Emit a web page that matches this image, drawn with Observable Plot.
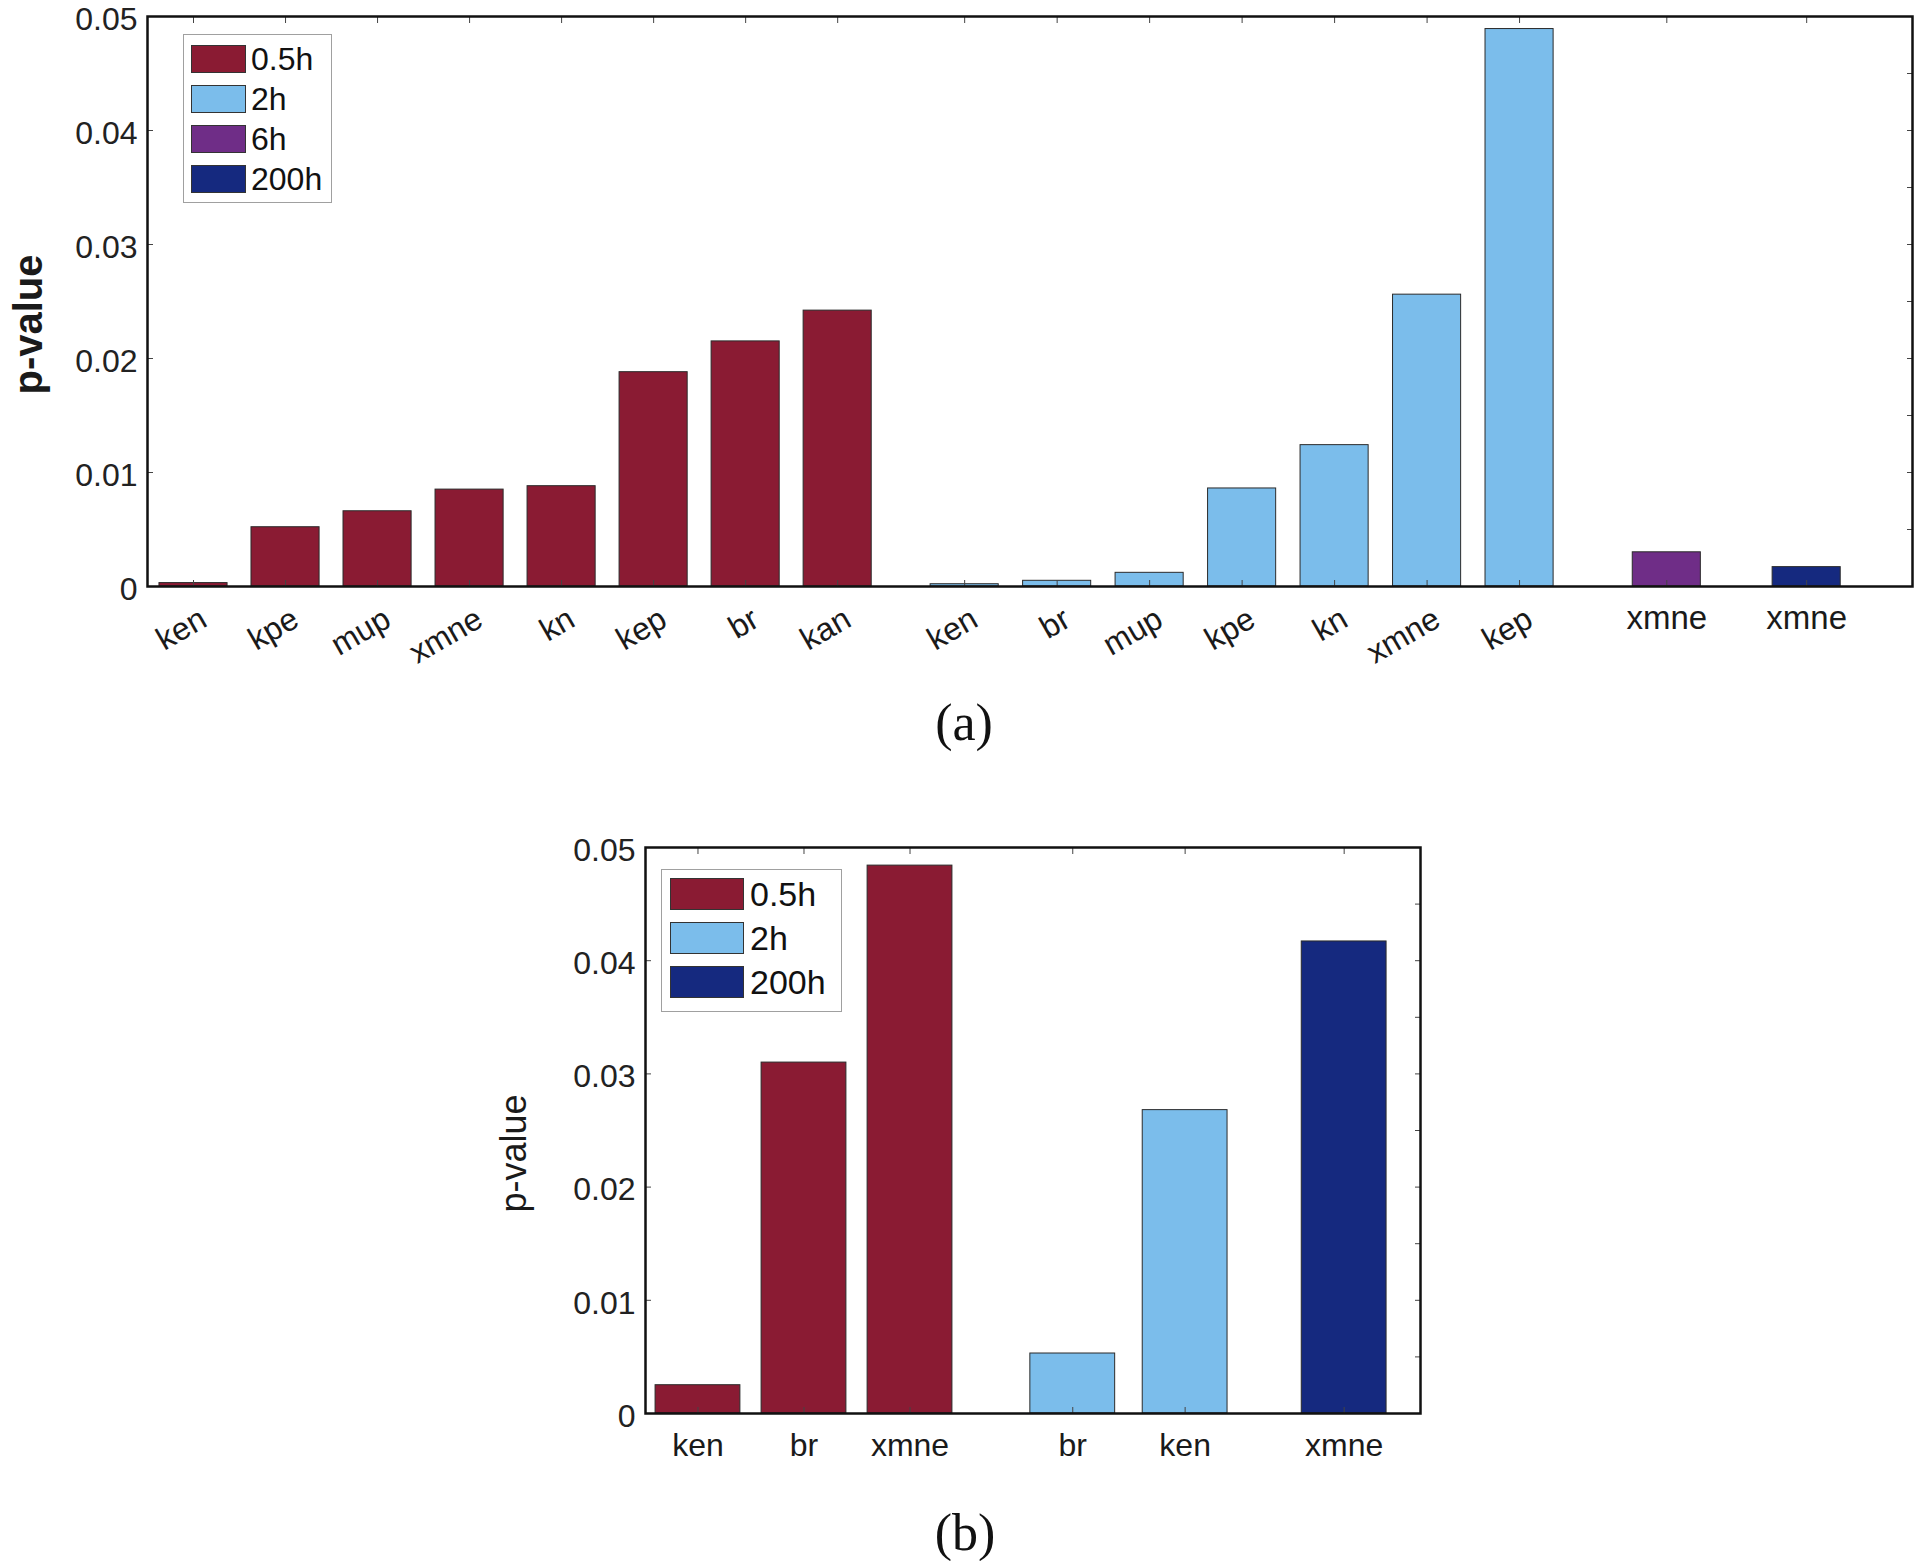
<!DOCTYPE html>
<html>
<head>
<meta charset="utf-8">
<script src="https://cdn.jsdelivr.net/npm/d3@7"></script>
<script src="https://cdn.jsdelivr.net/npm/@observablehq/plot@0.6"></script>
<style>
  html, body { margin: 0; padding: 0; background: #fff; }
  #root { position: relative; width: 1920px; height: 1561px; background: #fff; overflow: hidden;
          font-family: "Liberation Sans", Arial, Helvetica, sans-serif; color: #222; }
  .panel { position: absolute; left: 0; }
  .panel svg { overflow: visible; }
  .legend { position: absolute; box-sizing: border-box; border: 1.5px solid #a0a0a0; background: #fff; }
  .legend .sw { position: absolute; box-sizing: border-box; border: 1.2px solid #333; }
  .legend .lb { position: absolute; line-height: 1; white-space: nowrap; color: #111; }
  .cap { position: absolute; font-family: "Liberation Serif", "Times New Roman", serif; font-size: 52px;
         transform: translate(-50%, -50%); color: #111; line-height: 1; }
</style>
</head>
<body>
<div id="root"></div>
<script>
// ---------------- data ----------------
const groups = ["0.5h", "2h", "6h", "200h"];
const groupColors = ["#8a1b33", "#7bbdeb", "#6f2d87", "#15297f"];

// panel (a)
const aLabels05 = ["ken", "kpe", "mup", "xmne", "kn", "kep", "br", "kan"];
const aValues05 = [0.0003, 0.0052, 0.0066, 0.0085, 0.0088, 0.0188, 0.0215, 0.0242];
const aLabels2 = ["ken", "br", "mup", "kpe", "kn", "xmne", "kep"];
const aValues2 = [0.0002, 0.0005, 0.0012, 0.0086, 0.0124, 0.0256, 0.0489];
const aLabels6 = ["xmne"];
const aValues6 = [0.0030];
const aLabels200 = ["xmne"];
const aValues200 = [0.0017];

// panel (b)
const bLabels05 = ["ken", "br", "xmne"];
const bValues05 = [0.0025, 0.0310, 0.0484];
const bLabels2 = ["br", "ken"];
const bValues2 = [0.0053, 0.0268];
const bLabels200 = ["xmne"];
const bValues200 = [0.0417];

const yTicks = [0, 0.01, 0.02, 0.03, 0.04, 0.05];
const yMinorTicks = [0, 0.005, 0.01, 0.015, 0.02, 0.025, 0.03, 0.035, 0.04, 0.045, 0.05];

// ---------------- layout (slot units) ----------------
const layoutA = {
  domain: [0, 19.18], barWidth: 0.74,
  groups: [
    {group: "0.5h", labels: aLabels05, values: aValues05, start: 0.5, step: 1.0, rotate: true},
    {group: "2h", labels: aLabels2, values: aValues2, start: 8.88, step: 1.005, rotate: true},
    {group: "6h", labels: aLabels6, values: aValues6, start: 16.51, step: 1, rotate: false},
    {group: "200h", labels: aLabels200, values: aValues200, start: 18.03, step: 1, rotate: false}
  ]
};
const layoutB = {
  domain: [0, 7.31], barWidth: 0.80,
  groups: [
    {group: "0.5h", labels: bLabels05, values: bValues05, start: 0.495, step: 1.0, rotate: false},
    {group: "2h", labels: bLabels2, values: bValues2, start: 4.03, step: 1.06, rotate: false},
    {group: "200h", labels: bLabels200, values: bValues200, start: 6.59, step: 1, rotate: false}
  ]
};

function buildRows(layout) {
  const rows = [];
  for (const g of layout.groups) {
    g.labels.forEach((lab, i) => {
      rows.push({group: g.group, label: lab, value: g.values[i], pos: g.start + i * g.step, rotate: g.rotate});
    });
  }
  return rows;
}

const FONT = "Liberation Sans, Arial, Helvetica, sans-serif";

function panel(layout, opts) {
  const rows = buildRows(layout);
  const w = layout.barWidth;
  const positions = rows.map(d => d.pos);
  const rotRows = rows.filter(d => d.rotate);
  const flatRows = rows.filter(d => !d.rotate);
  return Plot.plot({
    width: 1920,
    height: opts.height,
    marginLeft: opts.marginLeft,
    marginRight: opts.marginRight,
    marginTop: opts.marginTop,
    marginBottom: opts.marginBottom,
    x: {type: "linear", domain: layout.domain, axis: null, label: null},
    y: {domain: [0, 0.05], axis: null, label: null},
    color: {domain: groups, range: groupColors},
    style: {fontFamily: FONT, color: "#222", background: "transparent", overflow: "visible"},
    marks: [
      Plot.rectY(rows, {
        x1: d => d.pos - w / 2, x2: d => d.pos + w / 2, y1: 0, y2: "value",
        fill: "group", stroke: "#2b2b2b", strokeWidth: 1
      }),
      // inward tick marks (MATLAB box style)
      Plot.axisY({anchor: "left", ticks: yTicks, tickSize: -6, tickFormat: () => "", label: null, stroke: "#444"}),
      Plot.axisY({anchor: "right", ticks: yMinorTicks, tickSize: -6, tickFormat: () => "", label: null, stroke: "#444"}),
      Plot.axisX({anchor: "bottom", ticks: positions, tickSize: -6, tickFormat: () => "", label: null, stroke: "#444"}),
      Plot.axisX({anchor: "top", ticks: positions, tickSize: -6, tickFormat: () => "", label: null, stroke: "#444"}),
      // y tick labels
      Plot.axisY({anchor: "left", ticks: yTicks, tickSize: 0, tickPadding: 10, tickFormat: d => String(d),
                  label: null, fontSize: 32, fill: "#222", dy: 3}),
      Plot.frame({stroke: "#111", strokeWidth: 2.5}),
      // category labels
      Plot.text(rotRows, {x: "pos", y: () => 0, text: "label", rotate: -30, textAnchor: "end", lineAnchor: "top",
                          dx: 4, dy: 19, fontSize: 32, fill: "#1a1a1a"}),
      Plot.text(flatRows, {x: "pos", y: () => 0, text: "label", lineAnchor: "top",
                           dy: opts.flatDy, fontSize: opts.flatFont, fill: "#1a1a1a"}),
      // y-axis title
      Plot.text(["p-value"], {text: d => d, frameAnchor: "left", rotate: -90, dx: opts.ylabDx, dy: 23,
                              fontSize: opts.ylabFont, fontWeight: opts.ylabWeight, fill: "#1a1a1a",
                              textAnchor: "middle", lineAnchor: "middle"})
    ]
  });
}

const root = document.getElementById("root");

function addPanel(svg, top) {
  const div = document.createElement("div");
  div.className = "panel";
  div.style.top = top + "px";
  div.appendChild(svg);
  root.appendChild(div);
}

function addLegend(box, items) {
  const lg = document.createElement("div");
  lg.className = "legend";
  Object.assign(lg.style, {left: box.left + "px", top: box.top + "px", width: box.width + "px", height: box.height + "px"});
  items.forEach((g, i) => {
    const sw = document.createElement("div");
    sw.className = "sw";
    Object.assign(sw.style, {left: box.swLeft + "px", top: (box.rowTop + i * box.rowStep) + "px",
      width: box.swWidth + "px", height: box.swHeight + "px", background: groupColors[groups.indexOf(g)]});
    lg.appendChild(sw);
    const lb = document.createElement("div");
    lb.className = "lb";
    lb.textContent = g;
    Object.assign(lb.style, {left: box.textLeft + "px", top: (box.rowTop + i * box.rowStep + box.swHeight / 2) + "px",
      fontSize: box.fontSize + "px", transform: "translateY(-50%)"});
    lg.appendChild(lb);
  });
  root.appendChild(lg);
}

function addCaption(text, cx, cy) {
  const c = document.createElement("div");
  c.className = "cap";
  c.textContent = text;
  c.style.left = cx + "px";
  c.style.top = cy + "px";
  root.appendChild(c);
}

// panel (a): frame x 147..1912, y 16..586
addPanel(panel(layoutA, {height: 660, marginLeft: 147, marginRight: 8, marginTop: 16, marginBottom: 74,
                         flatDy: 19, flatFont: 33, ylabDx: -118, ylabFont: 40, ylabWeight: "bold"}), 0);
addLegend({left: 183, top: 34, width: 149, height: 169, swLeft: 7, swWidth: 55, swHeight: 28,
           rowTop: 10, rowStep: 40, textLeft: 67, fontSize: 32}, ["0.5h", "2h", "6h", "200h"]);
addCaption("(a)", 964, 723);

// panel (b): frame x 645..1420, y 847..1413
addPanel(panel(layoutB, {height: 660, marginLeft: 645, marginRight: 500, marginTop: 27, marginBottom: 67,
                         flatDy: 20, flatFont: 32, ylabDx: -131, ylabFont: 36, ylabWeight: "normal"}), 820);
addLegend({left: 661, top: 869, width: 181, height: 143, swLeft: 8, swWidth: 74, swHeight: 32,
           rowTop: 8, rowStep: 44, textLeft: 88, fontSize: 34}, ["0.5h", "2h", "200h"]);
addCaption("(b)", 965, 1533);
</script>
</body>
</html>
